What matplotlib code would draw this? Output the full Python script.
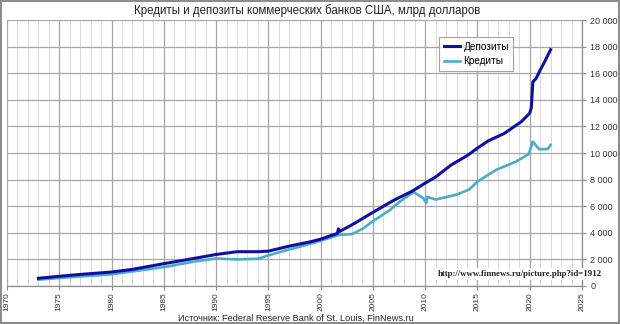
import matplotlib
matplotlib.use("Agg")
import matplotlib.pyplot as plt
from matplotlib.ticker import MultipleLocator, FuncFormatter

plt.rcParams['font.family'] = ['Liberation Sans', 'DejaVu Sans']

# Deposits of US commercial banks, bn USD
dep_years = [1973.0, 1975.0, 1977.0, 1980.0, 1982.0, 1985.0, 1987.0, 1990.0, 1992.0,
             1994.0, 1995.0, 1997.0, 1999.0, 2000.0, 2001.0, 2001.6, 2001.7, 2001.8,
             2003.0, 2005.0, 2007.0, 2008.8, 2010.0, 2011.0, 2012.5, 2014.0, 2015.0,
             2016.0, 2017.6, 2019.2, 2020.0, 2020.15, 2020.3, 2020.6, 2021.0, 2021.5,
             2022.0]
dep_values = [580, 730, 870, 1050, 1250, 1680, 1950, 2370, 2580,
              2580, 2620, 3000, 3320, 3520, 3800, 3950, 4300, 4100,
              4600, 5540, 6450, 7150, 7740, 8200, 9110, 9800, 10370,
              10900, 11490, 12360, 13000, 13400, 15350, 15600, 16230, 16980,
              17780]

# Loans of US commercial banks, bn USD
loan_years = [1973.0, 1975.0, 1980.0, 1985.0, 1988.0, 1990.0, 1992.0, 1994.0, 1995.0,
              1997.0, 1998.0, 2000.0, 2001.8, 2003.0, 2004.0, 2005.0, 2006.6, 2007.5,
              2008.2, 2008.9, 2009.8, 2010.1, 2010.2, 2011.0, 2013.0, 2014.2, 2015.0,
              2016.8, 2018.7, 2019.9, 2020.3, 2020.9, 2021.7, 2022.0]
loan_values = [480, 600, 880, 1420, 1850, 2070, 2000, 2050, 2300,
               2750, 2950, 3400, 3850, 3900, 4300, 4870, 5700, 6300,
               6700, 7050, 6620, 6250, 6700, 6500, 6870, 7250, 7850,
               8740, 9360, 9920, 10860, 10290, 10300, 10610]

title = "Кредиты и депозиты коммерческих банков США, млрд долларов"
source = "Источник: Federal Reserve Bank of St. Louis, FinNews.ru"
url = "http://www.finnews.ru/picture.php?id=1912"

fig = plt.figure(figsize=(6.2, 3.24), dpi=100)
fig.patch.set_facecolor('white')
fig.patch.set_edgecolor('#8c8c8c')
fig.patch.set_linewidth(1.5)

ax = fig.add_axes([0.0113, 0.1173, 0.9274, 0.8207])
ax.set_xlim(1970, 2025)
ax.set_ylim(0, 20000)

ax.xaxis.set_major_locator(MultipleLocator(5))
ax.xaxis.set_minor_locator(MultipleLocator(1))
ax.yaxis.set_major_locator(MultipleLocator(2000))
ax.yaxis.tick_right()
ax.yaxis.set_major_formatter(FuncFormatter(lambda v, p: f"{int(v):,}".replace(",", " ")))

ax.grid(which='major', color='#a6a6a6', linewidth=0.9)
ax.grid(which='minor', axis='x', color='#dadada', linewidth=0.7)
ax.set_axisbelow(True)

for side in ['top', 'left']:
    ax.spines[side].set_visible(False)
for side in ['bottom', 'right']:
    ax.spines[side].set_color('#8c8c8c')
    ax.spines[side].set_linewidth(0.9)

ax.tick_params(axis='x', which='major', labelsize=6, rotation=90, length=3,
               color='#8c8c8c', labelcolor='#333333', pad=1.5)
ax.tick_params(axis='x', which='minor', length=0)
ax.tick_params(axis='y', labelsize=6.5, length=3, color='#8c8c8c',
               labelcolor='#333333', pad=3)

ax.plot(dep_years, dep_values, color='#1010a0', linewidth=2.2,
        solid_joinstyle='round', label='Депозиты', zorder=3)
ax.plot(loan_years, loan_values, color='#4bacc6', linewidth=1.9,
        solid_joinstyle='round', label='Кредиты', zorder=2)

leg = ax.legend(loc='upper left', bbox_to_anchor=(0.752, 0.935), fontsize=7.2,
                frameon=True, fancybox=False, handlelength=1.6, handletextpad=0.35,
                borderpad=0.45, labelspacing=0.45, borderaxespad=0)
leg.get_frame().set_edgecolor('#8c8c8c')
leg.get_frame().set_linewidth(0.8)

fig.text(0.495, 0.968, title, ha='center', va='center', fontsize=8.3, color='#222222')
fig.text(0.478, 0.0185, source, ha='center', va='center', fontsize=6.6, color='#222222')
ax.text(2019.1, 900, url, ha='center', va='center', fontsize=6.3,
        family=['Liberation Serif', 'DejaVu Serif'], fontweight='bold', color='#222222',
        bbox=dict(facecolor='white', edgecolor='none', pad=1.5), zorder=4)

fig.savefig('out.png', dpi=100, facecolor=fig.get_facecolor(), edgecolor=fig.get_edgecolor())
